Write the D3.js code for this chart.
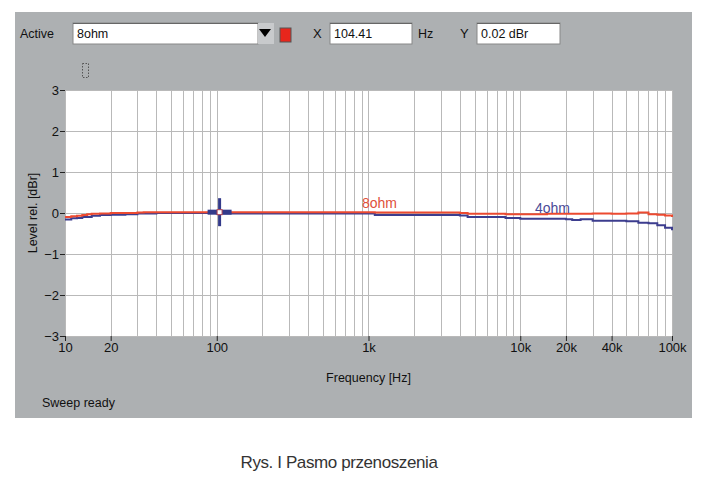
<!DOCTYPE html>
<html><head><meta charset="utf-8">
<script src="https://cdn.jsdelivr.net/npm/d3@7"></script>
<style>
body{margin:0;background:#fff;}
svg{display:block;}
text{font-family:"Liberation Sans",Arial,sans-serif;}
</style></head>
<body>
<svg id="c" width="705" height="480"></svg>
<script>
// ---- data ----
const freqs = [10, 11, 12, 13, 14, 15, 17, 20, 25, 30, 33, 36, 40, 50, 70, 100, 200, 500, 1000, 1100, 2000, 4000, 4500, 6000, 8000, 10000, 15000, 20000, 22000, 25000, 30000, 40000, 50000, 60000, 70000, 80000, 90000, 100000];
const ohm8 = [-0.10, -0.08, -0.07, -0.05, -0.03, -0.02, -0.01, 0.00, 0.00, 0.01, 0.02, 0.02, 0.02, 0.02, 0.02, 0.02, 0.02, 0.02, 0.02, 0.01, 0.01, 0.00, -0.02, -0.02, -0.03, -0.03, -0.02, -0.02, -0.02, -0.02, -0.01, -0.02, -0.01, 0.01, -0.03, -0.04, -0.06, -0.10];
const ohm4 = [-0.16, -0.13, -0.12, -0.10, -0.10, -0.07, -0.05, -0.04, -0.03, -0.01, -0.01, -0.01, 0.00, 0.00, 0.00, -0.01, -0.01, -0.01, -0.01, -0.05, -0.05, -0.06, -0.10, -0.10, -0.12, -0.14, -0.14, -0.15, -0.17, -0.15, -0.19, -0.19, -0.20, -0.24, -0.25, -0.30, -0.36, -0.42];
const yTicks = [-3, -2, -1, 0, 1, 2, 3];
const xTickVals = [10, 20, 100, 1000, 10000, 20000, 40000, 100000];
const xTickLabels = ["10", "20", "100", "1k", "10k", "20k", "40k", "100k"];
const cursorX = 104.41, cursorY = 0.02;

const svg = d3.select("#c");
const panel = "#adb0b2";
// gray panel
svg.append("rect").attr("x",15).attr("y",12).attr("width",677).attr("height",406).attr("fill",panel);

// toolbar
const tb = svg.append("g");
tb.append("text").attr("x",20).attr("y",38).attr("font-size",12.5).attr("fill","#111").text("Active");
function box(x,w,label){
  tb.append("rect").attr("x",x).attr("y",23).attr("width",w).attr("height",21).attr("fill","#fff").attr("stroke","#888").attr("stroke-width",1);
  tb.append("line").attr("x1",x).attr("x2",x+w).attr("y1",23.5).attr("y2",23.5).attr("stroke","#666");
  tb.append("text").attr("x",x+4).attr("y",38).attr("font-size",12.5).attr("fill","#111").text(label);
}
box(73,185,"8ohm");
tb.append("rect").attr("x",258).attr("y",23).attr("width",16).attr("height",21).attr("fill","#c8cacc");
tb.append("path").attr("d","M259,29 L271,29 L265,37 Z").attr("fill","#000");
tb.append("rect").attr("x",280).attr("y",28).attr("width",11).attr("height",14).attr("fill","#e8261c").attr("stroke","#555");
tb.append("text").attr("x",313).attr("y",38).attr("font-size",13).attr("fill","#111").text("X");
box(330,82,"104.41");
tb.append("text").attr("x",418).attr("y",38).attr("font-size",12.5).attr("fill","#111").text("Hz");
tb.append("text").attr("x",460).attr("y",38).attr("font-size",13).attr("fill","#111").text("Y");
box(477,83,"0.02 dBr");
tb.append("rect").attr("x",82.5).attr("y",63.5).attr("width",6).attr("height",14).attr("fill","none").attr("stroke","#555").attr("stroke-dasharray","1.5,1.5");

// plot area
const L = 65, R = 672, T = 90, B = 336;
const x = d3.scaleLog().domain([10,100000]).range([L,R]);
const y = d3.scaleLinear().domain([-3,3]).range([B,T]);
svg.append("rect").attr("x",L).attr("y",T).attr("width",R-L).attr("height",B-T).attr("fill","#fff");

// grid
const minor = [];
for (let d=10; d<100000; d*=10) for (let k=1;k<10;k++) minor.push(d*k);
minor.push(100000);
const grid = svg.append("g").attr("stroke","#b9b9b9").attr("stroke-width",1);
grid.selectAll("line.v").data(minor).join("line")
  .attr("x1",d=>Math.round(x(d))+0.5).attr("x2",d=>Math.round(x(d))+0.5).attr("y1",T).attr("y2",B);
grid.selectAll("line.h").data(yTicks).join("line")
  .attr("x1",L).attr("x2",R).attr("y1",d=>Math.round(y(d))+0.5).attr("y2",d=>Math.round(y(d))+0.5);

// axes
const yAxis = d3.axisLeft(y).tickValues(yTicks).tickSize(5).tickPadding(1).tickFormat(d3.format("d"));
const gy = svg.append("g").attr("transform",`translate(${L},0)`).call(yAxis);
gy.select(".domain").remove();
gy.selectAll("line").attr("stroke","#222");
gy.selectAll("text").attr("font-size",13).attr("fill","#111").attr("font-family","Liberation Sans, Arial, sans-serif");

const xAxis = d3.axisBottom(x).tickValues(xTickVals).tickSize(5).tickPadding(2).tickFormat((d,i)=>xTickLabels[i]);
const gx = svg.append("g").attr("transform",`translate(0,${B})`).call(xAxis);
gx.select(".domain").remove();
gx.selectAll("line").attr("stroke","#222");
gx.selectAll("text").attr("font-size",13).attr("fill","#111").attr("font-family","Liberation Sans, Arial, sans-serif");

// axis titles
svg.append("text").attr("transform",`translate(37,${(T+B)/2}) rotate(-90)`).attr("text-anchor","middle")
  .attr("font-size",12.5).attr("fill","#111").text("Level rel. [dBr]");
svg.append("text").attr("x",(L+R)/2).attr("y",382).attr("text-anchor","middle")
  .attr("font-size",12.5).attr("fill","#111").text("Frequency [Hz]");
svg.append("text").attr("x",42).attr("y",407).attr("font-size",12.5).attr("fill","#111").text("Sweep ready");

// lines
const line = vals => d3.line().x((d,i)=>x(freqs[i])).y(d=>y(d)).curve(d3.curveStepAfter)(vals);
svg.append("path").attr("d",line(ohm4)).attr("fill","none").attr("stroke","#3c3d8e").attr("stroke-width",2);
svg.append("path").attr("d",line(ohm8)).attr("fill","none").attr("stroke","#ec4a30").attr("stroke-width",2);

// labels
svg.append("text").attr("x",362).attr("y",208).attr("font-size",14).attr("fill","#e0503a").text("8ohm");
svg.append("text").attr("x",535).attr("y",213).attr("font-size",14).attr("fill","#4a4a96").text("4ohm");

// cursor
const cx = x(cursorX), cy = y(cursorY);
const cur = svg.append("g").attr("fill","#333a8a");
cur.append("rect").attr("x",cx-1.5).attr("y",cy-14).attr("width",3).attr("height",28);
cur.append("rect").attr("x",cx-12).attr("y",cy-2.5).attr("width",24).attr("height",5);
cur.append("rect").attr("x",cx-2.5).attr("y",cy-2.5).attr("width",5).attr("height",5).attr("fill","#fff").attr("stroke","#b04050").attr("stroke-width",1);

// caption
svg.append("text").attr("x",339).attr("y",468).attr("text-anchor","middle")
  .attr("font-family","Lato").attr("font-size",17).attr("letter-spacing",-0.4).attr("fill","#333")
  .text("Rys. I Pasmo przenoszenia");
</script>
</body></html>
